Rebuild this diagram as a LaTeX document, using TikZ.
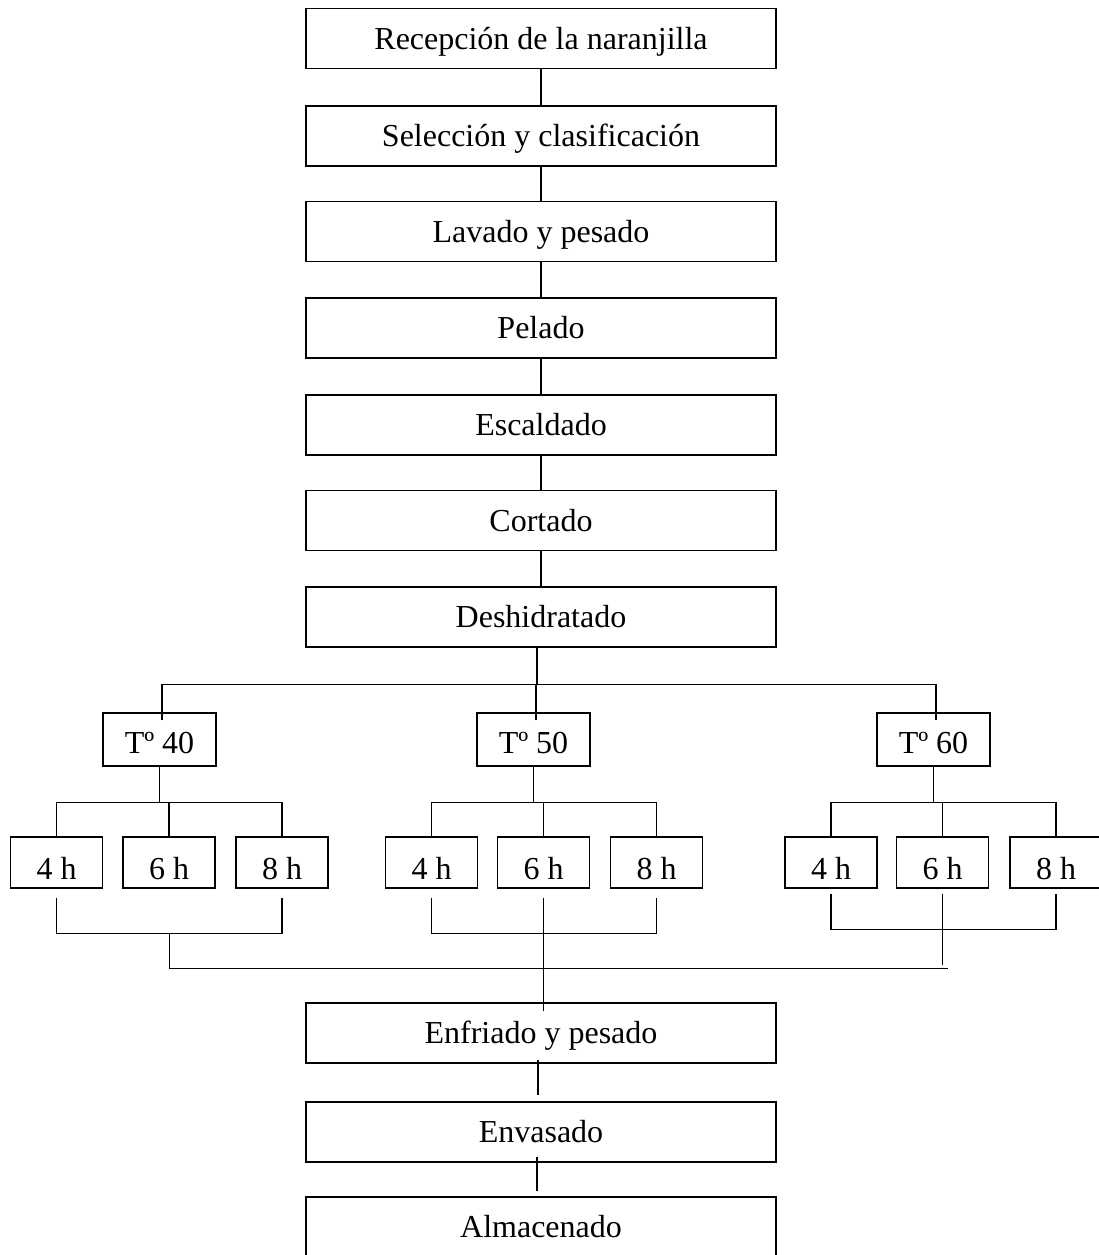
\documentclass[tikz,border=0pt]{standalone}
\usepackage{fontspec}
\setmainfont{Liberation Serif}
\usetikzlibrary{positioning,calc}

\begin{document}
\begin{tikzpicture}[x=1pt,y=1pt,line width=1.2pt,
    font=\fontsize{32}{38}\selectfont,
    paso/.style={draw,minimum width=470pt,minimum height=60pt,inner sep=0pt,text height=21pt,text depth=0pt},
    temp/.style={draw,minimum width=113pt,minimum height=53pt,inner sep=0pt,text height=28pt,text depth=0pt},
    hora/.style={draw,minimum width=92pt,minimum height=51pt,inner sep=0pt,text height=34pt,text depth=0pt}]
    \useasboundingbox (0,0) rectangle (1098,-1255);

    \foreach \n/\y/\txt in {rec/-38.5/Recepción de la naranjilla, sel/-136/Selección y clasificación,
        lav/-231.5/Lavado y pesado, pel/-328/Pelado, esc/-425/Escaldado, cor/-520.5/Cortado,
        des/-617/Deshidratado, enf/-1033/Enfriado y pesado, env/-1132/Envasado, alm/-1227/Almacenado} {
        \node[paso] (\n) at (541,\y) {\txt};
    }
    \foreach \a/\b in {rec/sel, sel/lav, lav/pel, pel/esc, esc/cor, cor/des} {
        \draw (\a) -- (\b);
    }
    \draw ([xshift=-3pt,yshift=4pt]enf.south) -- ([xshift=-3pt,yshift=6pt]env.north);
    \draw ([xshift=-4pt,yshift=6pt]env.south) -- ([xshift=-4pt,yshift=5pt]alm.north);

    % temperaturas
    \node[temp] (t40) at (159.5,-739.5) {Tº 40};
    \node[temp] (t50) at (533.5,-739.5) {Tº 50};
    \node[temp] (t60) at (933.5,-739.5) {Tº 60};
    \draw ([xshift=-4pt]des.south) -- ++(0,-37) coordinate (tronco);
    \draw ([xshift=2.5pt,yshift=-8pt]t40.north) |- (tronco) -| ([xshift=2.5pt,yshift=-8pt]t60.north);
    \draw ([xshift=2.5pt,yshift=-8pt]t50.north) -- ([xshift=2.5pt]t50.north |- tronco);

    % tiempos
    \foreach \t/\xa/\xb/\xc/\g in {40/56.5/169/282/9, 50/431.5/543.5/656.5/9, 60/831/942.5/1056/5} {
        \node[hora] (cuatro\t) at (\xa,-862.5) {4 h};
        \node[hora] (seis\t) at (\xb,-862.5) {6 h};
        \node[hora] (ocho\t) at (\xc,-862.5) {8 h};
        \draw (t\t.south) -- ++(0,-36) coordinate (r\t);
        \draw (cuatro\t.north) |- (r\t) -| (ocho\t.north);
        \draw (seis\t.north) -- (seis\t.north |- r\t);
        \draw ([yshift=-\g pt]cuatro\t.south) -- ++(0,-36) coordinate (l\t)
            -- (l\t -| ocho\t.south) -- ([yshift=-\g pt]ocho\t.south);
    }
    \draw ($(l40)!0.5!(l40 -| ocho40.south)$) -- ++(0,-35) coordinate (b40);
    \draw ([yshift=-9pt]seis50.south) -- ([yshift=-9pt]seis50.south |- enf.north);
    \draw ([yshift=-5pt]seis60.south) -- ++(0,-71) coordinate (b60);
    \draw (b40) -- ([xshift=5pt]b40 -| b60);
\end{tikzpicture}
\end{document}
